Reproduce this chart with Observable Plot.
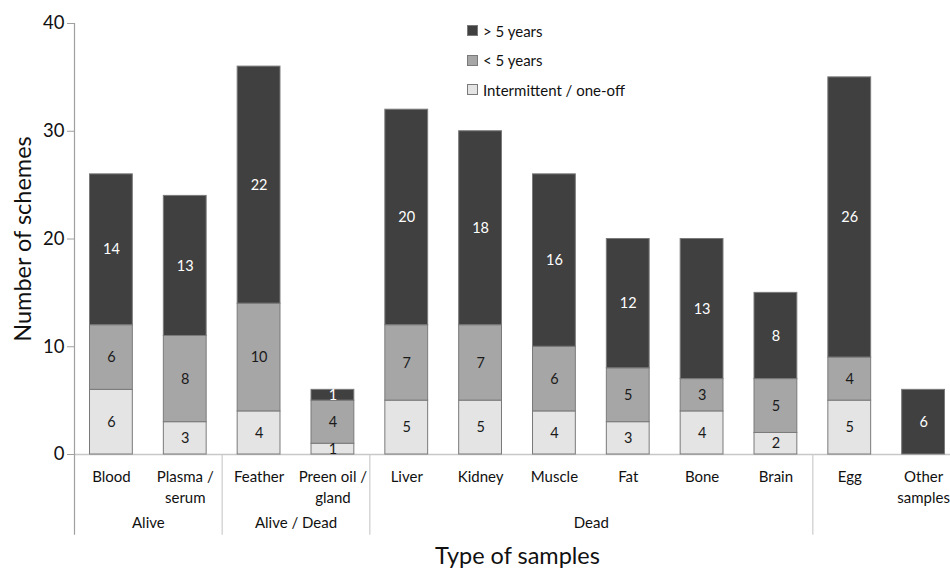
<!DOCTYPE html>
<html><head><meta charset="utf-8">
<script src="https://cdn.jsdelivr.net/npm/d3@7"></script>
<script src="https://cdn.jsdelivr.net/npm/@observablehq/plot@0.6"></script>
<style>
body{margin:0;background:#fff;font-family:Lato, sans-serif;}
#wrap{position:relative;width:950px;height:575px;overflow:hidden;}
#legend{position:absolute;left:467px;top:16px;font-size:15px;color:#111;font-family:Lato, sans-serif;}
.row{display:flex;align-items:center;height:29.5px;}
.sw{width:11px;height:11px;border:1px solid #7a7a7a;margin-right:5px;box-sizing:border-box;}
</style></head><body><div id="wrap"></div>
<script>
const categories = ["Blood","Plasma / serum","Feather","Preen oil / gland","Liver","Kidney","Muscle","Fat","Bone","Brain","Egg","Other samples"];
const tickLabels = ["Blood","Plasma /\nserum","Feather","Preen oil /\ngland","Liver","Kidney","Muscle","Fat","Bone","Brain","Egg","Other\nsamples"];
const series = ["Intermittent / one-off","< 5 years","> 5 years"];
const intermittent = [6,3,4,1,5,5,4,3,4,2,5,0];
const under5 = [6,8,10,4,7,7,6,5,3,5,4,0];
const over5 = [14,13,22,1,20,18,16,12,13,8,26,6];
const groups = ["Alive","Alive / Dead","Dead"];
const groupCenterAfter = ["Blood","Feather","Muscle"];
const separatorsAfter = ["Plasma / serum","Preen oil / gland","Brain"];
const yTicks = [0,10,20,30,40];
const colors = ["#e4e4e4","#a6a6a6","#404040"];

const rows = [];
[intermittent, under5, over5].forEach((vals, si) =>
  vals.forEach((v, i) => rows.push({cat: categories[i], series: series[si], value: v})));

const x0 = 74, x1 = 960;
const step = (x1 - x0) / categories.length;

const plot = Plot.plot({
  width: 950, height: 575,
  marginTop: 23, marginBottom: 121, marginLeft: 74, marginRight: -10,
  style: {fontFamily: "Lato, sans-serif", background: "white", overflow: "visible"},
  x: {domain: categories, range: [x0, x1], paddingInner: 0.42, paddingOuter: 0.21, round: false},
  y: {domain: [0, 40]},
  color: {domain: series, range: colors},
  marks: [
    Plot.ruleY([0], {stroke: "#c8c8c8", strokeWidth: 1.5}),
    Plot.ruleX(["Blood"], {x: d => d, dx: -step/2, y1: -7.5, y2: 40, stroke: "#a0a0a0", strokeWidth: 1.2}),
    Plot.ruleX(separatorsAfter, {x: d => d, dx: step/2, y1: 0, y2: -7.5, stroke: "#cccccc", strokeWidth: 1.2}),
    Plot.barY(rows, Plot.stackY({x: "cat", y: "value", fill: "series", filter: d => d.value > 0, stroke: "#7a7a7a", strokeWidth: 1})),
    Plot.text(rows, Plot.stackY({x: "cat", y: "value", z: "series",
      text: d => (d.series !== "> 5 years" && d.value > 0) ? String(d.value) : null,
      fill: "#1a1a1a", fontSize: 14.5})),
    Plot.text(rows, Plot.stackY({x: "cat", y: "value", z: "series",
      text: d => (d.series === "> 5 years" && d.value > 0) ? String(d.value) : null,
      fill: "white", fontSize: 14.5})),
    Plot.axisY({ticks: yTicks, tickSize: 7, tickPadding: 3, fontSize: 18.5, stroke: "#a0a0a0", fill: "#111", label: null}),
    Plot.axisX({tickSize: 0, tickPadding: 13, fontSize: 15, lineHeight: 1.4, fill: "#111",
      tickFormat: d => tickLabels[categories.indexOf(d)], label: null}),
    Plot.text(groups, {x: (d, i) => groupCenterAfter[i], text: d => d, frameAnchor: "bottom", dx: step/2, dy: 73, fontSize: 15, fill: "#111"}),
    Plot.text(["Number of schemes"], {frameAnchor: "left", textAnchor: "middle", dx: -51, rotate: -90, fontSize: 23.5, fill: "#111"}),
    Plot.text(["Type of samples"], {frameAnchor: "bottom", dy: 109, fontSize: 23.5, fill: "#111"})
  ]
});
const wrap = document.getElementById("wrap");
wrap.appendChild(plot);

const legend = document.createElement("div");
legend.id = "legend";
[2, 1, 0].forEach(i => {
  const row = document.createElement("div");
  row.className = "row";
  const sw = document.createElement("span");
  sw.className = "sw";
  sw.style.background = colors[i];
  const lab = document.createElement("span");
  lab.textContent = series[i];
  row.appendChild(sw); row.appendChild(lab);
  legend.appendChild(row);
});
wrap.appendChild(legend);
</script></body></html>
